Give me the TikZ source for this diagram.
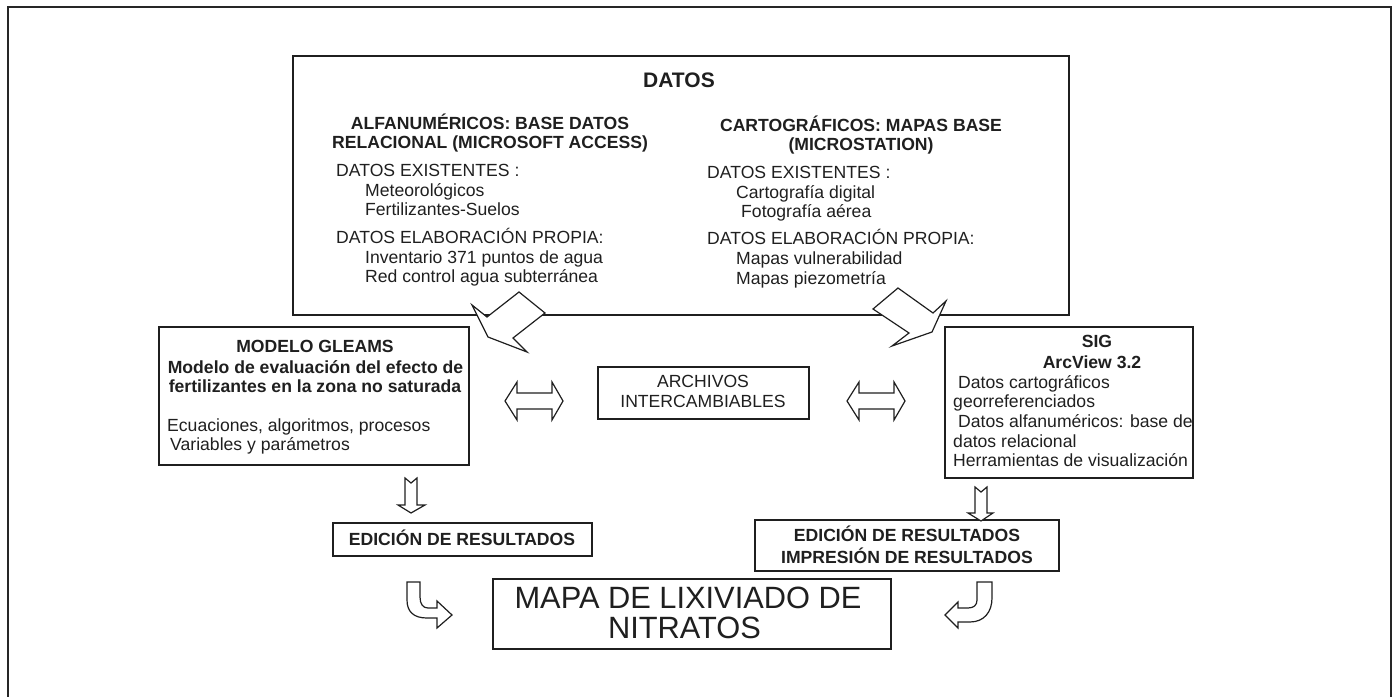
\documentclass[tikz,border=0pt]{standalone}
\usepackage{fontspec}
\setmainfont{Liberation Sans}
\usepackage{tikz}

\tikzset{
  box/.style={draw=black!88, line width=1.6pt, inner sep=0pt},
  txt/.style={font=\fontsize{17.6}{19.5}\selectfont, text=black!88, inner sep=0pt, anchor=base west},
  btxt/.style={txt, font=\fontsize{17.6}{19.5}\selectfont\bfseries},
  ctxt/.style={btxt, anchor=base},
  blockarrow/.style={draw=black!88, fill=white, line width=1.2pt, line join=miter},
}

\begin{document}
\begin{tikzpicture}[x=1pt, y=-1pt]
    \useasboundingbox (0,0) rectangle (1396,696);
    \draw[draw=black!85, line width=1.3pt] (8,700) -- (8,7) -- (1391,7) -- (1391,700);

    \node[box, minimum width=776pt, minimum height=259pt] (datos) at (681,185.5) {};
    \node[ctxt, font=\fontsize{21}{24}\selectfont\bfseries] (titulo) at (679,87.5) {DATOS};
    \node[ctxt] (alfa1) at (490,129.5) {ALFANUMÉRICOS: BASE DATOS};
    \node[ctxt] (alfa2) at (490,148.5) {RELACIONAL (MICROSOFT ACCESS)};
    \node[txt] (aex) at (336,176.5) {DATOS EXISTENTES :};
    \node[txt] (ameteo) at (365,196) {Meteorológicos};
    \node[txt] (afert) at (365,215.5) {Fertilizantes-Suelos};
    \node[txt] (aela) at (336,243.5) {DATOS ELABORACIÓN PROPIA:};
    \node[txt] (ainv) at (365,263) {Inventario 371 puntos de agua};
    \node[txt] (ared) at (365,282.5) {Red control agua subterránea};
    \node[ctxt] (carto1) at (861,131.5) {CARTOGRÁFICOS: MAPAS BASE};
    \node[ctxt] (carto2) at (861,150.5) {(MICROSTATION)};
    \node[txt] (cex) at (707,178.5) {DATOS EXISTENTES :};
    \node[txt] (cdig) at (736,198) {Cartografía digital};
    \node[txt] (cfoto) at (741,217.5) {Fotografía aérea};
    \node[txt] (cela) at (707,244.5) {DATOS ELABORACIÓN PROPIA:};
    \node[txt] (cvul) at (736,264) {Mapas vulnerabilidad};
    \node[txt] (cpiezo) at (736,284) {Mapas piezometría};

    \node[box, minimum width=310pt, minimum height=138pt] (gleams) at (314,396) {};
    \node[ctxt] (gleams1) at (315,352.5) {MODELO GLEAMS};
    \node[ctxt] (gleams2) at (315.5,373.5) {Modelo de evaluación del efecto de};
    \node[ctxt] (gleams3) at (315,392.5) {fertilizantes en la zona no saturada};
    \node[txt] (gecu) at (167,431.5) {Ecuaciones, algoritmos, procesos};
    \node[txt] (gvar) at (170,450.5) {Variables y parámetros};

    \node[box, minimum width=211pt, minimum height=52pt] (archivos) at (703.5,393) {};
    \node[txt, anchor=base] (arch1) at (703,387.5) {ARCHIVOS};
    \node[txt, anchor=base] (arch2) at (703,407.5) {INTERCAMBIABLES};

    \node[box, minimum width=248pt, minimum height=151pt] (sig) at (1069,402.5) {};
    \node[ctxt] (sig1) at (1097,347.5) {SIG};
    \node[ctxt] (sig2) at (1092,368.5) {ArcView 3.2};
    \node[txt] (scart) at (958,388.5) {Datos cartográficos};
    \node[txt] (sgeo) at (953,407.5) {georreferenciados};
    \node[txt] (salfa) at (958,427.5) {Datos alfanuméricos: base de};
    \node[txt] (srel) at (953,447.5) {datos relacional};
    \node[txt] (sherr) at (953,466.5) {Herramientas de visualización};

    \node[box, minimum width=259pt, minimum height=33pt] (edicion) at (462.5,539.5) {};
    \node[ctxt] (edicion1) at (462,545.5) {EDICIÓN DE RESULTADOS};
    \node[box, minimum width=304pt, minimum height=51pt] (impresion) at (907,545.5) {};
    \node[ctxt] (impresion1) at (907,541.5) {EDICIÓN DE RESULTADOS};
    \node[ctxt] (impresion2) at (907,563.5) {IMPRESIÓN DE RESULTADOS};

    \node[box, minimum width=398pt, minimum height=70pt] (mapa) at (692,614) {};
    \node[txt, anchor=base, font=\fontsize{30.8}{30}\selectfont] (mapa1) at (688,608) {MAPA DE LIXIVIADO DE};
    \node[txt, anchor=base, font=\fontsize{30.8}{30}\selectfont] (mapa2) at (684.5,638) {NITRATOS};

    \draw[blockarrow] (472,305) -- (487,317) -- (519,292) -- (545,313) -- (513,338) -- (527,352) -- (488,337) -- cycle;
    \draw[blockarrow] (873,309) -- (898,288) -- (933,313) -- (946,301) -- (932,332) -- (892,346) -- (909,333) -- cycle;

    \foreach \dx in {0,342}
      \draw[blockarrow, xshift=\dx pt] (505,401) -- (517,382) -- (517,393) -- (552,393) -- (552,382) -- (563,401)
        -- (552,420) -- (552,409) -- (517,409) -- (517,420) -- cycle;

    \draw[blockarrow] (405,478) -- (411,483) -- (417,478) -- (417,505) -- (425,505) -- (411,513) -- (398,505) -- (405,505) -- cycle;
    \draw[blockarrow] (975,487) -- (981,492) -- (987,487) -- (987,513) -- (993,513) -- (981,521) -- (968,513) -- (975,513) -- cycle;

    \draw[blockarrow] (407,582) -- (407,600) .. controls (407,612) and (414,618) .. (427,618) -- (437,618) -- (437,628) -- (452,615)
      -- (437,601) -- (437,608) -- (428,608) .. controls (423,608) and (420,604) .. (420,597) -- (420,582) -- cycle;
    \draw[blockarrow] (977,582) -- (977,600) .. controls (977,605) and (974,608) .. (968,608) -- (958,608) -- (958,602) -- (945,615)
      -- (958,628) -- (958,622) -- (970,622) .. controls (984,622) and (992,612) .. (992,598) -- (992,582) -- cycle;
\end{tikzpicture}
\end{document}
